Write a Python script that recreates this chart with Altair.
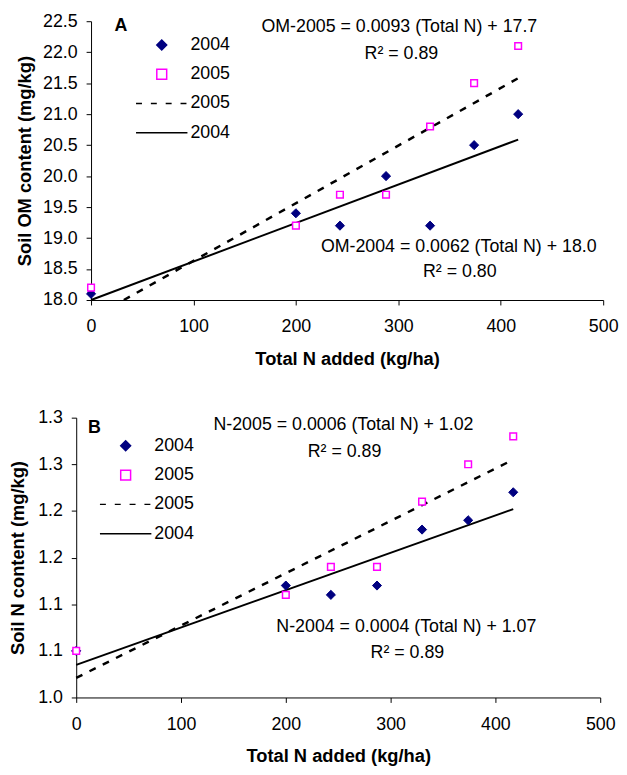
import altair as alt
import pandas as pd

FONT = "Liberation Sans"

# ---------------- Panel A : soil OM ----------------
total_n_a = [0, 200, 243, 288, 331, 374, 417]
om_2004 = [18.1, 19.4, 19.2, 20.0, 19.2, 20.5, 21.0]
om_2005 = [18.2, 19.2, 19.7, 19.7, 20.8, 21.5, 22.1]
fit_a_2004_x = [0, 417]
fit_a_2004_y = [18.0, 20.59]
fit_a_2005_x = [32, 417]
fit_a_2005_y = [18.0, 21.58]
ann_a_text = ["OM-2005 = 0.0093 (Total N) + 17.7", "R² = 0.89",
              "OM-2004 = 0.0062 (Total N) + 18.0", "R² = 0.80"]
ann_a_x = [301, 303, 359, 360]
ann_a_y = [22.41, 21.97, 18.85, 18.45]
y_ticks_a = [18.0, 18.5, 19.0, 19.5, 20.0, 20.5, 21.0, 21.5, 22.0, 22.5]

# ---------------- Panel B : soil N ----------------
total_n_b = [0, 200, 243, 287, 330, 374, 417]
n_2004 = [1.05, 1.12, 1.11, 1.12, 1.18, 1.19, 1.22]
n_2005 = [1.05, 1.11, 1.14, 1.14, 1.21, 1.25, 1.28]
fit_b_2004_x = [0, 417]
fit_b_2004_y = [1.035, 1.202]
fit_b_2005_x = [0, 417]
fit_b_2005_y = [1.021, 1.255]
ann_b_text = ["N-2005 = 0.0006 (Total N) + 1.02", "R² = 0.89",
              "N-2004 = 0.0004 (Total N) + 1.07", "R² = 0.89"]
ann_b_x = [255, 256, 315, 316]
ann_b_y = [1.2918, 1.2633, 1.0753, 1.048]
y_ticks_b = [1.00, 1.05, 1.10, 1.15, 1.20, 1.25, 1.30]
y_labels_b = ["1.0", "1.1", "1.1", "1.2", "1.2", "1.3", "1.3"]

x_ticks = [0, 100, 200, 300, 400, 500]

legend_keys = ["p2004", "p2005", "l2005", "l2004"]
legend_shapes = ["diamond", "square",
                 "M-5.2,0H-4M-2.2,0H-1M0.8,0H2M3.8,0H5",
                 "M-5.2,0H5.2"]
legend_fills = ["#000080", "white", "transparent", "transparent"]
legend_strokes = ["#000080", "#FF00FF", "black", "black"]


def panel(xs, y04, y05, f04x, f04y, f05x, f05y, ann_t, ann_x, ann_y,
          letter, letter_xy, ydomain, yticks, ylabelexpr, ytitle, ytitlepad,
          legxy, width, height, shift):
    xaxis = dict(values=x_ticks, format="d", title="Total N added (kg/ha)",
                 labelPadding=13, titlePadding=14, labelFlush=False)
    xscale = dict(domain=[0, 500], nice=False)
    yaxis = dict(values=yticks, title=ytitle, titlePadding=ytitlepad, labelPadding=9)
    if shift:
        xscale["rangeMin"] = shift
        xaxis["titleX"] = shift + (width - shift) / 2
        yaxis["offset"] = -shift
    if ylabelexpr:
        yaxis["labelExpr"] = ylabelexpr
    else:
        yaxis["format"] = ".1f"
    X = alt.X("x:Q", scale=alt.Scale(**xscale), axis=alt.Axis(**xaxis))
    Y = alt.Y("y:Q", scale=alt.Scale(domain=ydomain, nice=False, zero=False),
              axis=alt.Axis(**yaxis))

    leg = alt.Legend(title=None, orient="none", legendX=legxy[0], legendY=legxy[1],
                     labelExpr="slice(datum.label, 1)", symbolSize=100,
                     labelFontSize=18, labelFont=FONT, labelColor="black",
                     labelOffset=20, rowPadding=11.6, padding=0,
                     symbolStrokeWidth=1.5)
    enc = dict(
        shape=alt.Shape("key:N", scale=alt.Scale(domain=legend_keys, range=legend_shapes), legend=leg),
        fill=alt.Fill("key:N", scale=alt.Scale(domain=legend_keys, range=legend_fills), legend=leg),
        stroke=alt.Stroke("key:N", scale=alt.Scale(domain=legend_keys, range=legend_strokes), legend=leg),
    )

    d04 = pd.DataFrame({"x": xs, "y": y04, "key": ["p2004"] * len(xs)})
    d05 = pd.DataFrame({"x": xs, "y": y05, "key": ["p2005"] * len(xs)})
    l04 = pd.DataFrame({"x": f04x, "y": f04y})
    l05 = pd.DataFrame({"x": f05x, "y": f05y})
    ann = pd.DataFrame({"x": ann_x, "y": ann_y, "t": ann_t})
    let = pd.DataFrame({"x": [letter_xy[0]], "y": [letter_xy[1]], "t": [letter]})

    line05 = alt.Chart(l05).mark_line(color="black", strokeWidth=2.5, strokeDash=[7, 8]).encode(x=X, y=Y)
    line04 = alt.Chart(l04).mark_line(color="black", strokeWidth=2).encode(x=X, y=Y)
    p04 = alt.Chart(d04).mark_point(size=85, strokeWidth=1, opacity=1).encode(x=X, y=Y, **enc)
    p05 = alt.Chart(d05).mark_point(size=45, strokeWidth=1.5, opacity=1).encode(x=X, y=Y, **enc)
    txt = alt.Chart(ann).mark_text(font=FONT, fontSize=18, color="black",
                                   align="center", baseline="middle").encode(x=X, y=Y, text="t:N")
    lt = alt.Chart(let).mark_text(font=FONT, fontSize=18, fontWeight="bold", color="black",
                                  align="left", baseline="middle").encode(x=X, y=Y, text="t:N")
    return alt.layer(line05, line04, p04, p05, txt, lt).properties(width=width, height=height)


label_expr_b = "[" + ",".join("'%s'" % s for s in y_labels_b) + "][round((datum.value - 1) * 20)]"

chart_a = panel(total_n_a, om_2004, om_2005, fit_a_2004_x, fit_a_2004_y, fit_a_2005_x, fit_a_2005_y,
                ann_a_text, ann_a_x, ann_a_y, "A", (23, 22.42), [18.0, 22.5], y_ticks_a, None,
                "Soil OM content (mg/kg)", 7.75, (77.5, 15), 533, 282, 15)
chart_b = panel(total_n_b, n_2004, n_2005, fit_b_2004_x, fit_b_2004_y, fit_b_2005_x, fit_b_2005_y,
                ann_b_text, ann_b_x, ann_b_y, "B", (11.3, 1.289), [1.0, 1.3], y_ticks_b, label_expr_b,
                "Soil N content (mg/kg)", 10.5, (41, 19.5), 530, 283, 0)

chart = alt.concat(chart_a, chart_b, columns=1, spacing=41).resolve_scale(
    shape="independent", fill="independent", stroke="independent"
).resolve_legend(
    shape="independent", fill="independent", stroke="independent"
).properties(
    padding={"left": 0, "top": 0, "right": 0, "bottom": 0}
).configure_axis(
    labelFont=FONT, labelFontSize=18, labelColor="black",
    titleFont=FONT, titleFontSize=18.5, titleFontWeight="bold", titleColor="black",
    domainColor="black", domainWidth=1, tickColor="black", tickSize=5, grid=False,
).configure_view(stroke=None)

chart.save("out.html", embed_options={"renderer": "svg", "actions": False})
